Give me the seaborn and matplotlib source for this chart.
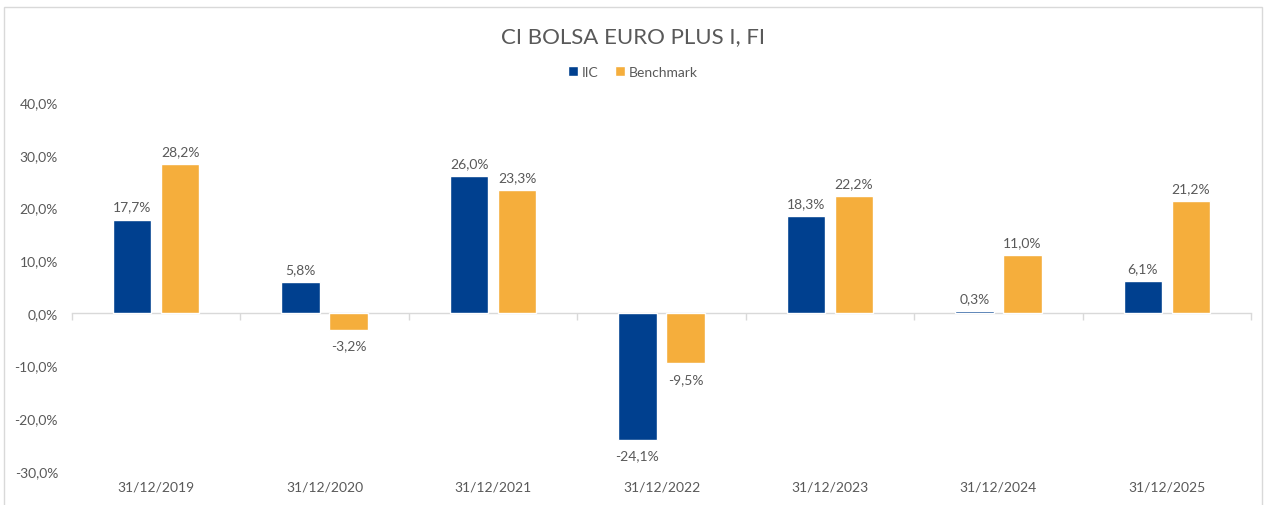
import pandas as pd
import matplotlib.pyplot as plt
import seaborn as sns
from matplotlib.patches import Rectangle

# chart data
dates = ["31/12/2019", "31/12/2020", "31/12/2021", "31/12/2022",
         "31/12/2023", "31/12/2024", "31/12/2025"]
iic = [17.7, 5.8, 26.0, -24.1, 18.3, 0.3, 6.1]
benchmark = [28.2, -3.2, 23.3, -9.5, 22.2, 11.0, 21.2]
series_names = ["IIC", "Benchmark"]
title = "CI BOLSA EURO PLUS I, FI"

colors = {"IIC": "#00408F", "Benchmark": "#F5AE3C"}
TEXT = "#595959"

sns.set_theme(style="white")
plt.rcParams["font.family"] = ["Lato", "DejaVu Sans"]

df = pd.DataFrame({
    "Fecha": dates * 2,
    "Serie": [series_names[0]] * len(dates) + [series_names[1]] * len(dates),
    "Valor": iic + benchmark,
})

fig = plt.figure(figsize=(12.66, 5.06), dpi=100)
ax = fig.add_axes([72 / 1266, 1 - 472 / 506, (1251 - 72) / 1266, (472 - 103) / 506])

sns.barplot(data=df, x="Fecha", y="Valor", hue="Serie", palette=colors,
            width=0.57, gap=0.2, ax=ax, legend=True, saturation=1)

ymin, ymax = -30, 40
ax.set_ylim(ymin, ymax)
ax.set_xlim(-0.5, len(dates) - 0.5)
ax.set_yticks(range(-30, 41, 10))
ax.set_yticklabels([f"{t:.1f}%".replace(".", ",") for t in range(-30, 41, 10)])
ax.tick_params(axis="both", length=0, colors=TEXT, labelsize=10)
ax.tick_params(axis="y", pad=10)
ax.tick_params(axis="x", pad=7)
ax.set_xlabel("")
ax.set_ylabel("")
for s in ax.spines.values():
    s.set_visible(False)

# zero axis line with category boundary ticks
zpos = (0 - ymin) / (ymax - ymin)
sec = ax.secondary_xaxis(zpos)
sec.set_xticks([i - 0.5 for i in range(len(dates) + 1)])
sec.set_xticklabels([])
sec.tick_params(axis="x", direction="out", length=5, color="#D9D9D9", width=1)
sec.spines["bottom"].set_color("#D9D9D9")
sec.spines["bottom"].set_linewidth(1)

# data labels
for cont in ax.containers:
    for bar in cont:
        v = bar.get_height()
        x = bar.get_x() + bar.get_width() / 2
        lab = f"{v:.1f}%".replace(".", ",")
        if v >= 0:
            ax.annotate(lab, (x, v), xytext=(0, 5), textcoords="offset points",
                        ha="center", va="bottom", fontsize=10, color=TEXT)
        else:
            ax.annotate(lab, (x, v), xytext=(0, -7), textcoords="offset points",
                        ha="center", va="top", fontsize=10, color=TEXT)

handles, labels = ax.get_legend_handles_labels()
ax.get_legend().remove()
fig.legend(handles, labels, loc="center", bbox_to_anchor=(0.5, 1 - 73 / 506),
           ncol=2, frameon=False, fontsize=10, handlelength=0.7, handleheight=0.7,
           handletextpad=0.3, columnspacing=1.2, labelcolor=TEXT)

fig.text(0.5, 1 - 37 / 506, title, ha="center", va="center", fontsize=16, color=TEXT)

fig.patches.append(Rectangle((4 / 1266, -0.02), 1258 / 1266, 1.02 - 8 / 506,
                             transform=fig.transFigure, fill=False,
                             edgecolor="#D9D9D9", linewidth=1))

fig.savefig("out.png", dpi=100)
